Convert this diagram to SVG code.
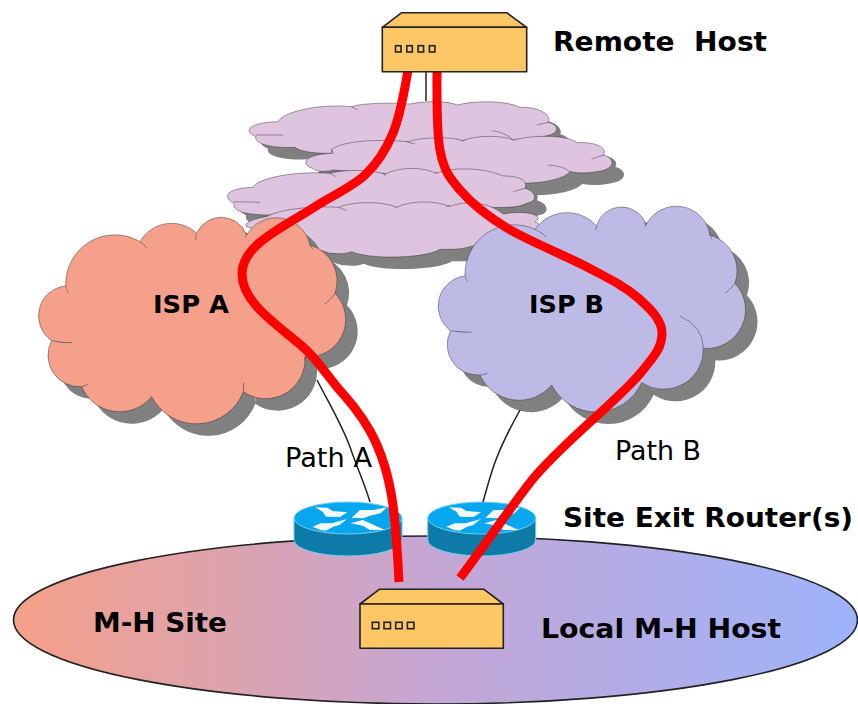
<svg xmlns="http://www.w3.org/2000/svg" width="858" height="704" viewBox="0 0 858 704">
<style>
text{font-family:"DejaVu Sans","Liberation Sans",sans-serif;fill:#000}
.b{font-weight:bold}
.lbl{font-size:27px;font-weight:bold}
.path{font-size:27px}
.sh{fill:#808080;stroke:none}
.pink{fill:#dfc4e0}
.cl{stroke:#222;stroke-width:1.3;vector-effect:non-scaling-stroke}
.red{fill:none;stroke:#f00;stroke-width:9}
.thin{fill:none;stroke:#222;stroke-width:1.5}
.box{fill:#fdc765;stroke:#222;stroke-width:1.6;stroke-linejoin:round}
.led{fill:#fdc765;stroke:#222;stroke-width:1.6}
</style>
<defs>
<linearGradient id="siteGrad" x1="0" x2="1" y1="0" y2="0">
<stop offset="0" stop-color="#f6a088"/>
<stop offset="0.5" stop-color="#c4a6d4"/>
<stop offset="1" stop-color="#9db4fb"/>
</linearGradient>
<path id="c1" d="M175,95 C185,68 290,40 395,50 C430,38 520,38 570,42 C620,32 680,32 712,45 C770,30 860,32 900,52 C950,50 995,70 985,97 C1015,105 1020,125 990,135 C950,145 900,150 870,150 L330,190 C280,190 240,185 225,172 C170,175 100,165 108,140 C70,125 80,98 175,95 Z M395,50 L412,60 M108,135 L190,135 M950,105 L985,97 M815,122 C840,125 865,135 880,150"/>
<path id="c2" d="M335,178 C370,152 470,147 565,155 C600,142 690,138 730,152 C770,134 850,136 880,150 C950,132 1050,137 1070,158 C1120,155 1165,170 1150,195 C1190,205 1185,240 1130,245 C1100,250 1075,250 1050,245 C1030,270 950,285 860,278 L340,240 C300,250 280,240 280,235 C250,230 235,195 335,190 Z M560,155 L585,162 M725,155 L735,148 M1115,207 L1150,195 M985,225 C1020,228 1040,235 1052,248 M335,178 L340,192"/>
<path id="c3" d="M100,292 C110,264 230,242 330,250 C370,238 450,238 495,252 C540,230 610,230 648,250 C700,230 790,232 850,258 C900,258 925,272 915,295 C950,305 955,335 920,340 C900,350 880,352 850,352 L150,375 C100,375 35,370 42,340 C10,325 10,295 100,292 Z M42,335 L120,337 M880,305 L915,295 M330,250 L348,260 M490,250 L497,258 M645,250 L650,245"/>
<path id="c4" d="M140,380 C180,357 280,347 355,352 C400,333 490,333 530,352 C570,331 650,331 690,350 C730,332 800,332 850,372 C930,358 975,380 945,395 C975,410 960,425 940,425 L750,470 C720,480 680,478 660,478 C620,505 450,510 395,485 C370,495 340,490 330,490 L80,410 C70,400 100,385 140,380 Z M355,352 L380,362 M525,350 L530,355 M680,350 L690,345"/>
<path id="ca" d="M137,258 A148,148 0 0 1 360,125 A109,109 0 0 1 530,100 A81,81 0 0 1 680,105 A103,103 0 0 1 870,135 A112,112 0 0 1 945,280 A112,112 0 0 1 855,470 A118,118 0 0 1 670,575 A151,151 0 0 1 395,590 A124,124 0 0 1 185,560 A94,94 0 0 1 95,422 A90,90 0 0 1 137,258 Z M360,125 Q372,133 382,146 M530,100 Q527,110 528,120 M680,105 L676,112 M870,135 L878,148 M945,280 Q935,298 915,312 M855,470 L855,482 M670,575 Q672,560 670,548 M185,560 Q195,558 205,552 M95,422 Q125,430 157,428 M137,258 Q140,270 146,280"/>
<path id="cb" d="M135,228 A148,148 0 0 1 345,88 A118,118 0 0 1 530,78 A77,77 0 0 1 678,75 A102,102 0 0 1 870,105 A112,112 0 0 1 945,250 A116,116 0 0 1 850,445 A119,119 0 0 1 665,548 A150,150 0 0 1 395,555 A128,128 0 0 1 180,525 A91,91 0 0 1 92,392 A91,91 0 0 1 135,228 Z M345,88 Q365,98 380,110 M530,78 L527,90 M678,75 L672,80 M870,105 L876,118 M945,250 Q935,265 915,280 M780,348 Q850,380 850,445 M180,525 Q192,524 203,520 M92,392 Q125,398 155,397 M135,228 Q138,238 143,245"/>
<g id="routerShape">
<path d="M294,518 V540 A54,16 0 0 0 402,540 V518 Z" fill="#0d7aa8" stroke="#6fd0f2" stroke-width="1"/>
<ellipse cx="348" cy="518" rx="54" ry="16" fill="#06a7ee" stroke="#6fd0f2" stroke-width="1"/>
<g transform="translate(290,495) scale(0.3333)" fill="#f4f8fb">
<polygon points="75,37 112,38 128,48 172,52 150,66 108,65 98,50"/>
<polygon points="185,68 210,45 250,45 290,37 272,55 240,62 220,70"/>
<polygon points="68,95 92,85 125,85 172,72 148,90 130,95 108,107 92,105"/>
<polygon points="182,85 218,75 240,85 285,105 240,105 218,92"/>
</g>
</g>
</defs>
<rect width="858" height="704" fill="#fff"/>
<g id="site">
<ellipse cx="435.500" cy="620" rx="422" ry="84" fill="url(#siteGrad)" stroke="#222" stroke-width="1.600"/>
<text class="lbl" x="93" y="632" textLength="134" lengthAdjust="spacingAndGlyphs">M-H Site</text>
</g>
<g id="internet-clouds" transform="translate(220,90) scale(0.3333)">
<use href="#c1" class="sh" x="36" y="36"/><use href="#c1" class="pink cl"/>
<use href="#c2" class="sh" x="36" y="36"/><use href="#c2" class="pink cl"/>
<use href="#c3" class="sh" x="36" y="36"/><use href="#c3" class="pink cl"/>
<use href="#c4" class="sh" x="36" y="36"/><use href="#c4" class="pink cl"/>
</g>
<g id="isp-a">
<g transform="translate(20,200) scale(0.3333)">
<use href="#ca" class="sh" x="36" y="36"/><use href="#ca" class="cl" fill="#f4a08a"/>
</g>
<text class="b" font-size="25" x="153" y="313" textLength="76" lengthAdjust="spacingAndGlyphs">ISP A</text>
</g>
<g id="isp-b">
<g transform="translate(420,200) scale(0.3333)">
<use href="#cb" class="sh" x="36" y="36"/><use href="#cb" class="cl" fill="#bdbbe6"/>
</g>
<text class="b" font-size="25" x="529" y="313" textLength="75" lengthAdjust="spacingAndGlyphs">ISP B</text>
</g>
<g id="router-a"><use href="#routerShape"/></g>
<g id="router-b"><use href="#routerShape" x="133.700"/></g>
<g id="connectors">
<path class="thin" d="M426,70 V101"/>
<path class="thin" d="M317,380 C330,405 342,425 350,447 C358,470 365,485 370,502"/>
<path class="thin" d="M520,410 C510,428 503,442 497,457 C491,472 487,488 483,502"/>
<path class="red" d="M408,70 C405.500,85 400.200,115.500 393,133 C385.800,150.500 378.300,162.500 365,175 C351.700,187.500 331.800,195.500 313,208 C282,228 242,245 242,274 C242,302 275,323 303,347 C317,359 326,374 337,387 C360,413 384,440 393,505 C396,530 398,560 399,582"/>
<path class="red" d="M437,70 C437,90 436.200,130 440,150 C443.800,170 448.800,177 460,190 C471.200,203 485.800,215.200 507,228 C528.200,240.800 565.300,255.500 587,267 C608.700,278.500 624.500,286 637,297 C649.500,308 663,320 662,335 C661,350 653.300,356.700 643,370 C632.700,383.300 616.700,397.500 600,413 C575,436 550,458 532,480 C510,508 485,545 460,578"/>
</g>
<g id="remote-host">
<path class="box" d="M382.300,27.300 L401.700,12.700 H506.700 L526.700,27.300 Z"/>
<rect class="box" x="382.300" y="27.300" width="144.400" height="44.400"/>
<rect class="led" x="395.500" y="45.700" width="5.500" height="6.300"/>
<rect class="led" x="406.800" y="45.700" width="5.500" height="6.300"/>
<rect class="led" x="418.100" y="45.700" width="5.500" height="6.300"/>
<rect class="led" x="429.400" y="45.700" width="5.500" height="6.300"/>
<text class="lbl" x="553" y="50.500" textLength="214" lengthAdjust="spacingAndGlyphs" xml:space="preserve">Remote  Host</text>
</g>
<g id="local-host">
<path class="box" d="M360,604 L379.300,589.300 H484 L503.300,604 Z"/>
<rect class="box" x="360" y="604" width="143.300" height="44.300"/>
<rect class="led" x="372.300" y="622.300" width="6.500" height="6.400"/>
<rect class="led" x="384" y="622.300" width="6.500" height="6.400"/>
<rect class="led" x="395.700" y="622.300" width="6.500" height="6.400"/>
<rect class="led" x="407.400" y="622.300" width="6.500" height="6.400"/>
<text class="lbl" x="541" y="638" textLength="240" lengthAdjust="spacingAndGlyphs">Local M-H Host</text>
</g>
<g id="labels">
<text class="path" x="285" y="467" textLength="87" lengthAdjust="spacingAndGlyphs">Path A</text>
<text class="path" x="615" y="460" textLength="86" lengthAdjust="spacingAndGlyphs">Path B</text>
<text class="lbl" x="563" y="527" textLength="290" lengthAdjust="spacingAndGlyphs">Site Exit Router(s)</text>
</g>
</svg>
